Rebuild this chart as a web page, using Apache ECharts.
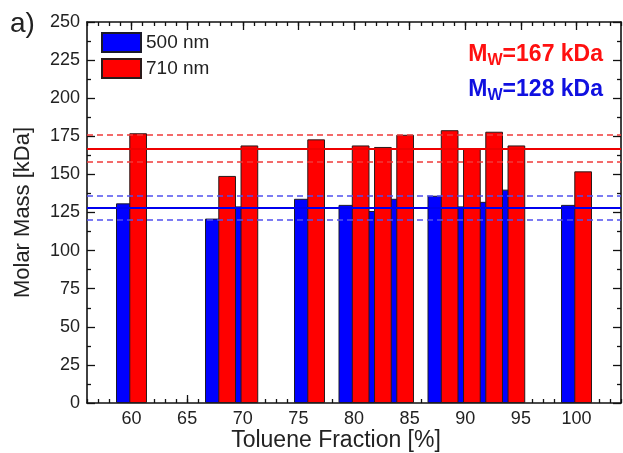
<!DOCTYPE html>
<html><head><meta charset="utf-8">
<script src="https://cdn.jsdelivr.net/npm/echarts@6/dist/echarts.min.js"></script>
<style>html,body{margin:0;padding:0;background:#fff}#c{width:623px;height:453px}</style>
</head><body><div id="c"></div>
<script>
// ---- data ----
const fractions = [60, 68, 70, 76, 80, 82, 84, 88, 90, 92, 94, 100];
const mass500 = [131, 121, 129, 134, 130, 126, 134, 136, 129, 132, 140, 130];
const mass710 = [177, 149, 169, 173, 169, 168, 176, 179, 167, 178, 169, 152];
const xTickLabels = [60, 65, 70, 75, 80, 85, 90, 95, 100];
const yTickLabels = [0, 25, 50, 75, 100, 125, 150, 175, 200, 225, 250];
const mean500 = 128, dev500 = [120, 136];
const mean710 = 167, dev710 = [158, 176];
const seriesNames = ['500 nm', '710 nm'];

const FONT = 'Liberation Sans, Arial, sans-serif';
const TXT = '#222';
const chart = echarts.init(document.getElementById('c'), null, {renderer: 'canvas'});

const xMin = 56, xMax = 104;
function xAx(pos, major, labels) {
  return {
    type: 'value', position: pos, min: xMin, max: xMax,
    interval: major ? undefined : 1,
    gridIndex: 0,
    axisLine: {show: !major, lineStyle: {color: '#111', width: 1.6}},
    axisTick: major ? {show: true, inside: true, length: 8, customValues: xTickLabels, lineStyle: {color: '#111', width: 1.3}}
                    : {show: true, inside: true, length: 4, lineStyle: {color: '#111', width: 1.3}},
    axisLabel: labels ? {show: true, fontSize: 18, color: TXT, fontFamily: FONT, margin: 7,
                         formatter: v => (xTickLabels.indexOf(v) >= 0 ? String(v) : '')}
                      : {show: false},
    splitLine: {show: false}
  };
}
function yAx(pos, labels) {
  return {
    type: 'value', position: pos, min: 0, max: 250, interval: 25,
    axisLine: {show: true, lineStyle: {color: '#111', width: 1.6}},
    axisTick: {show: true, inside: true, length: 8, lineStyle: {color: '#111', width: 1.3}},
    minorTick: {show: true, splitNumber: 2, length: 4, lineStyle: {color: '#111', width: 1.3}},
    axisLabel: labels ? {show: true, fontSize: 18, color: TXT, fontFamily: FONT, margin: 7,
                         formatter: v => (yTickLabels.indexOf(v) >= 0 ? String(v) : '')} : {show: false},
    splitLine: {show: false},
    name: labels ? 'Molar Mass [kDa]' : '',
    nameLocation: 'middle', nameGap: 53,
    nameTextStyle: {fontSize: 22, color: TXT, fontFamily: FONT}
  };
}
function refLine(y, color, width, dashed) {
  return {
    type: 'line', data: [], xAxisIndex: 0, yAxisIndex: 0, silent: true,
    markLine: {
      silent: true, symbol: ['none', 'none'], label: {show: false}, z: 5, animation: false,
      lineStyle: {color: color, width: width, type: dashed ? [6, 4] : 'solid', opacity: 1},
      emphasis: {disabled: true},
      data: [{yAxis: y}]
    }
  };
}
function mwText(val, color, top) {
  return {text: '{m|M}{s|W}{m|=' + val + ' kDa}', right: 15, top: top,
    textStyle: {rich: {
      m: {fontSize: 23, fontWeight: 'bold', color: color, fontFamily: FONT, lineHeight: 27},
      s: {fontSize: 16, fontWeight: 'bold', color: color, fontFamily: FONT, lineHeight: 27, padding: [12, 0, 0, 0]}}}};
}

const option = {
  animation: false,
  backgroundColor: '#fff',
  textStyle: {fontFamily: FONT},
  grid: {left: 87, right: 2, top: 22, bottom: 50, containLabel: false, outerBoundsMode: 'none'},
  title: [
    {text: 'a)', left: 5, top: 5, textStyle: {fontSize: 28, fontWeight: 'normal', color: TXT, fontFamily: FONT}},
    mwText(mean710, '#ff1010', 36),
    mwText(mean500, '#1010e0', 71)
  ],
  legend: {
    data: seriesNames, orient: 'vertical', left: 96, top: 27,
    itemWidth: 39, itemHeight: 19, itemGap: 5, icon: 'rect',
    textStyle: {fontSize: 19, color: TXT, fontFamily: FONT}, selectedMode: false
  },
  graphic: [
    {type: 'text', x: 336, y: 441, silent: true,
     style: {text: 'Toluene Fraction [%]', fill: TXT, font: '23px ' + FONT, textAlign: 'center', textVerticalAlign: 'middle'}}
  ],
  xAxis: [xAx('bottom', false, true), xAx('bottom', true, false), xAx('top', false, false), xAx('top', true, false)],
  yAxis: [yAx('left', true), yAx('right', false)],
  series: [
    {
      name: seriesNames[0], type: 'bar', xAxisIndex: 0, yAxisIndex: 0,
      barWidth: 17.7, barGap: '-25%',
      itemStyle: {color: '#0000ff', borderColor: '#1a1a2a', borderWidth: 1},
      data: fractions.map((x, i) => [x, mass500[i]])
    },
    {
      name: seriesNames[1], type: 'bar', xAxisIndex: 0, yAxisIndex: 0,
      barWidth: 17.7, barGap: '-25%',
      itemStyle: {color: '#ff0000', borderColor: '#2a1a1a', borderWidth: 1},
      data: fractions.map((x, i) => [x, mass710[i]])
    },
    refLine(mean500, '#0000ee', 2, false),
    refLine(dev500[0], '#5050f0', 1.5, true),
    refLine(dev500[1], '#5050f0', 1.5, true),
    refLine(mean710, '#ee0000', 2, false),
    refLine(dev710[0], '#f03a3a', 1.5, true),
    refLine(dev710[1], '#f03a3a', 1.5, true)
  ]
};
chart.setOption(option);
</script>
</body></html>
